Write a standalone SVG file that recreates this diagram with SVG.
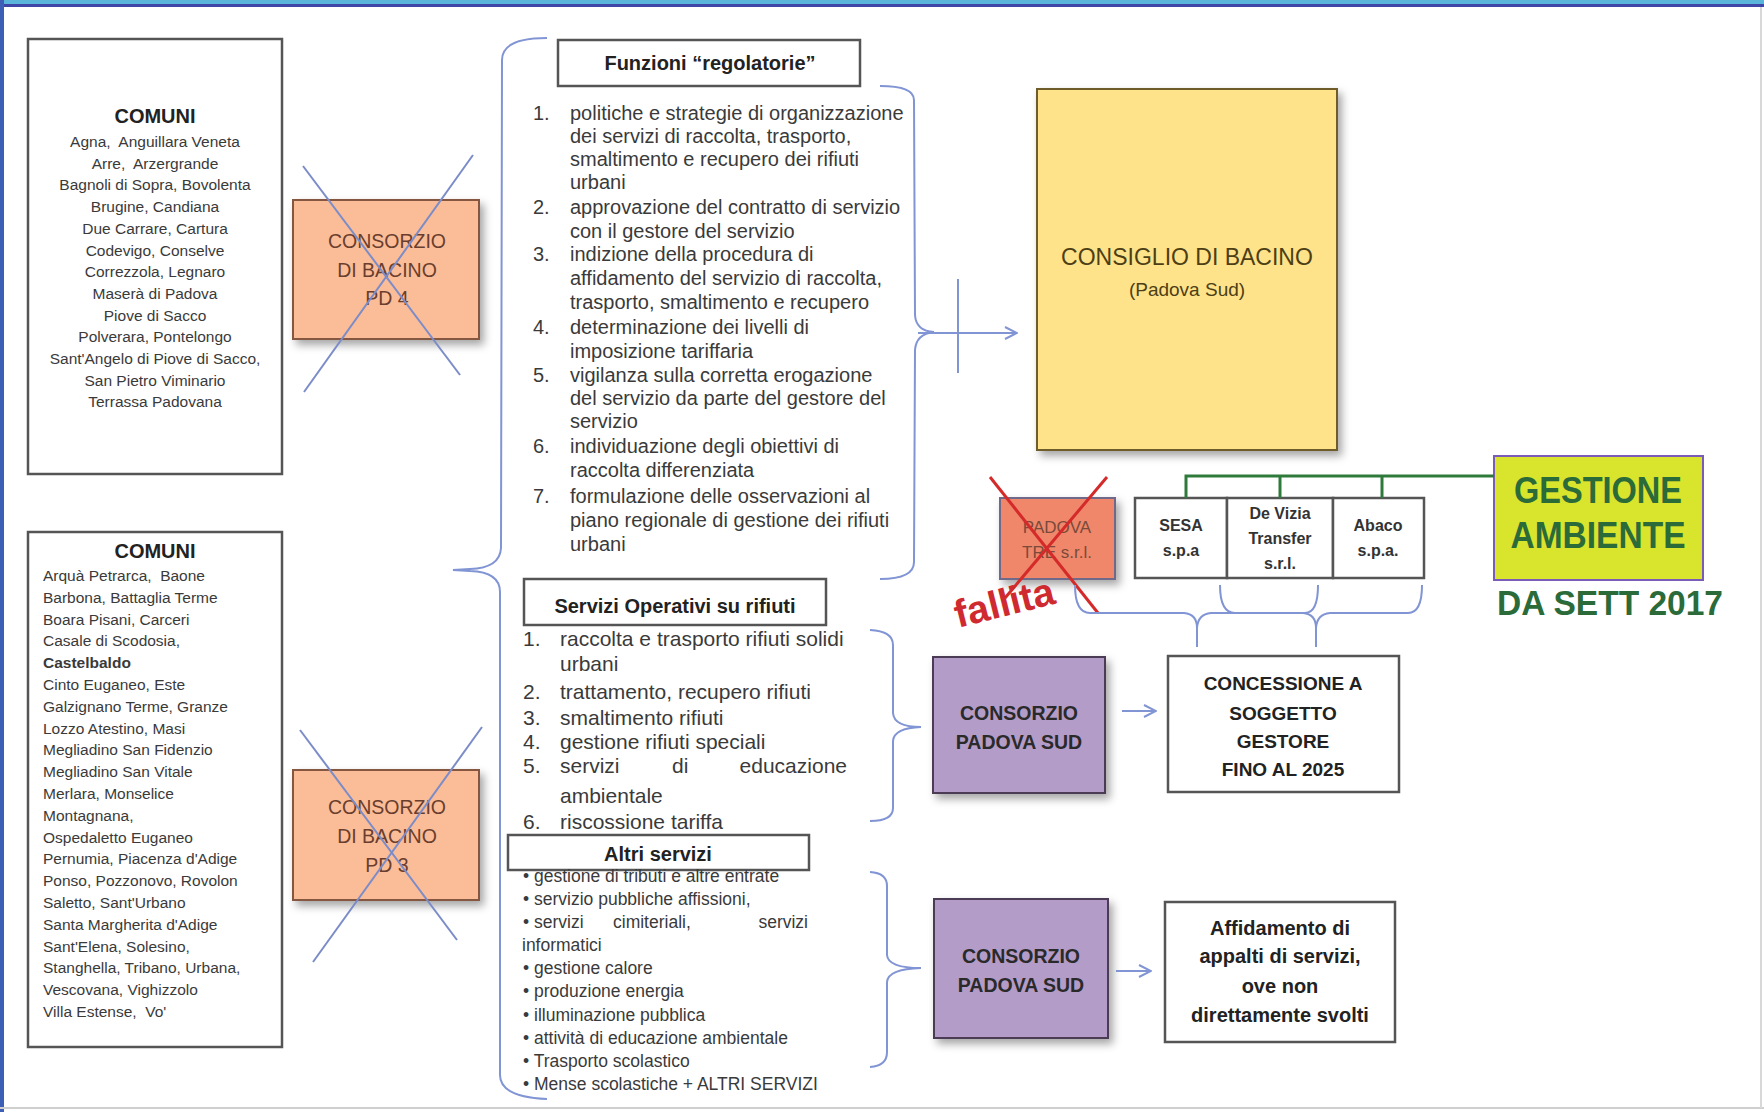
<svg xmlns="http://www.w3.org/2000/svg" width="1764" height="1112" viewBox="0 0 1764 1112">
<defs>
<style>
text{font-family:"Liberation Sans",Arial,sans-serif;fill:#333}
.b{font-weight:bold}
.c{text-anchor:middle}
.e{text-anchor:end}
.box{fill:#fff;stroke:#555;stroke-width:2.5}
.com{font-size:15.5px;fill:#3a3a3a;white-space:pre}
.ttl{font-size:20px;font-weight:bold;fill:#222}
.pd{fill:#fbbd98;stroke:#85563f;stroke-width:2}
.pdt{font-size:19.5px;fill:#6a3e2e;text-anchor:middle}
.xl{stroke:#7b8cc8;stroke-width:2;fill:none}
.fz{font-size:20px;fill:#3a3a3a}
.sv{font-size:21px;fill:#3a3a3a}
.al{font-size:17.5px;fill:#3a3a3a}
.pu{fill:#b49cc9;stroke:#4b3a55;stroke-width:2}
.put{font-size:19.5px;font-weight:bold;fill:#2a2a2a;text-anchor:middle}
.wt{font-size:19px;font-weight:bold;fill:#222;text-anchor:middle}
.co{font-size:16px;font-weight:bold;fill:#333;text-anchor:middle}
.br{fill:none;stroke:#8194d4;stroke-width:2}
.gr{fill:none;stroke:#2e7a3a;stroke-width:3}
.ga{font-weight:bold;fill:#2b6b3a}
</style>
<filter id="sh" x="-15%" y="-15%" width="140%" height="140%">
<feDropShadow dx="4" dy="5" stdDeviation="4" flood-color="#000" flood-opacity="0.35"/>
</filter>
<marker id="ah" viewBox="0 0 14 14" refX="13" refY="7" markerWidth="14" markerHeight="14" markerUnits="userSpaceOnUse" orient="auto">
<path d="M1,1 L13,7 L1,13" fill="none" stroke="#8194d4" stroke-width="2"/>
</marker>
</defs>

<rect x="0" y="0" width="1764" height="1112" fill="#fff"/>
<g id="frame">
<rect x="0" y="0" width="1764" height="4" fill="#5bb5da"/>
<rect x="0" y="4" width="1764" height="3" fill="#3f46a8"/>
<rect x="0" y="0" width="4" height="1112" fill="#3d5fb5"/>
<line x1="0" y1="1108" x2="1764" y2="1108" stroke="#cfcfcf" stroke-width="2"/>
<line x1="1761" y1="7" x2="1761" y2="1108" stroke="#d8d8d8" stroke-width="2"/>
</g>

<g id="comuni-pd4">
<rect class="box" x="28" y="39" width="254" height="435"/>
<text class="ttl c" x="155" y="123">COMUNI</text>
<text class="com c" x="155" y="147">Agna,  Anguillara Veneta</text>
<text class="com c" x="155" y="168.7">Arre,  Arzergrande</text>
<text class="com c" x="155" y="190.4">Bagnoli di Sopra, Bovolenta</text>
<text class="com c" x="155" y="212.1">Brugine, Candiana</text>
<text class="com c" x="155" y="233.8">Due Carrare, Cartura</text>
<text class="com c" x="155" y="255.5">Codevigo, Conselve</text>
<text class="com c" x="155" y="277.2">Correzzola, Legnaro</text>
<text class="com c" x="155" y="298.9">Maserà di Padova</text>
<text class="com c" x="155" y="320.6">Piove di Sacco</text>
<text class="com c" x="155" y="342.3">Polverara, Pontelongo</text>
<text class="com c" x="155" y="364">Sant'Angelo di Piove di Sacco,</text>
<text class="com c" x="155" y="385.7">San Pietro Viminario</text>
<text class="com c" x="155" y="407.4">Terrassa Padovana</text>
</g>

<g id="consorzio-pd4">
<rect class="pd" x="293" y="200" width="186" height="139" filter="url(#sh)"/>
<text class="pdt" x="387" y="248">CONSORZIO</text>
<text class="pdt" x="387" y="277">DI BACINO</text>
<text class="pdt" x="387" y="305">PD 4</text>
<line class="xl" x1="303" y1="166" x2="460" y2="375"/>
<line class="xl" x1="473" y1="155" x2="304" y2="392"/>
</g>

<g id="comuni-pd3">
<rect class="box" x="28" y="532" width="254" height="515"/>
<text class="ttl c" x="155" y="558">COMUNI</text>
<text class="com" x="43" y="581">Arquà Petrarca,  Baone</text>
<text class="com" x="43" y="602.8">Barbona, Battaglia Terme</text>
<text class="com" x="43" y="624.6">Boara Pisani, Carceri</text>
<text class="com" x="43" y="646.4">Casale di Scodosia,</text>
<text class="com b" x="43" y="668.2">Castelbaldo</text>
<text class="com" x="43" y="690">Cinto Euganeo, Este</text>
<text class="com" x="43" y="711.8">Galzignano Terme, Granze</text>
<text class="com" x="43" y="733.6">Lozzo Atestino, Masi</text>
<text class="com" x="43" y="755.4">Megliadino San Fidenzio</text>
<text class="com" x="43" y="777.2">Megliadino San Vitale</text>
<text class="com" x="43" y="799">Merlara, Monselice</text>
<text class="com" x="43" y="820.8">Montagnana,</text>
<text class="com" x="43" y="842.6">Ospedaletto Euganeo</text>
<text class="com" x="43" y="864.4">Pernumia, Piacenza d'Adige</text>
<text class="com" x="43" y="886.2">Ponso, Pozzonovo, Rovolon</text>
<text class="com" x="43" y="908">Saletto, Sant'Urbano</text>
<text class="com" x="43" y="929.8">Santa Margherita d'Adige</text>
<text class="com" x="43" y="951.6">Sant'Elena, Solesino,</text>
<text class="com" x="43" y="973.4">Stanghella, Tribano, Urbana,</text>
<text class="com" x="43" y="995.2">Vescovana, Vighizzolo</text>
<text class="com" x="43" y="1017">Villa Estense,  Vo'</text>
</g>

<g id="consorzio-pd3">
<rect class="pd" x="293" y="770" width="186" height="130" filter="url(#sh)"/>
<text class="pdt" x="387" y="814">CONSORZIO</text>
<text class="pdt" x="387" y="843">DI BACINO</text>
<text class="pdt" x="387" y="872">PD 3</text>
<line class="xl" x1="300" y1="730" x2="457" y2="940"/>
<line class="xl" x1="482" y1="727" x2="313" y2="962"/>
</g>

<g id="funzioni-regolatorie">
<rect class="box" x="558" y="40" width="302" height="46" stroke="#444"/>
<text class="ttl c" x="710" y="70">Funzioni “regolatorie”</text>
<text class="fz" x="533" y="120">1.</text>
<text class="fz" x="570" y="120">politiche e strategie di organizzazione</text>
<text class="fz" x="570" y="143">dei servizi di raccolta, trasporto,</text>
<text class="fz" x="570" y="166">smaltimento e recupero dei rifiuti</text>
<text class="fz" x="570" y="189">urbani</text>
<text class="fz" x="533" y="214">2.</text>
<text class="fz" x="570" y="214">approvazione del contratto di servizio</text>
<text class="fz" x="570" y="238">con il gestore del servizio</text>
<text class="fz" x="533" y="261">3.</text>
<text class="fz" x="570" y="261">indizione della procedura di</text>
<text class="fz" x="570" y="285">affidamento del servizio di raccolta,</text>
<text class="fz" x="570" y="309">trasporto, smaltimento e recupero</text>
<text class="fz" x="533" y="334">4.</text>
<text class="fz" x="570" y="334">determinazione dei livelli di</text>
<text class="fz" x="570" y="358">imposizione tariffaria</text>
<text class="fz" x="533" y="382">5.</text>
<text class="fz" x="570" y="382">vigilanza sulla corretta erogazione</text>
<text class="fz" x="570" y="405">del servizio da parte del gestore del</text>
<text class="fz" x="570" y="428">servizio</text>
<text class="fz" x="533" y="453">6.</text>
<text class="fz" x="570" y="453">individuazione degli obiettivi di</text>
<text class="fz" x="570" y="477">raccolta differenziata</text>
<text class="fz" x="533" y="503">7.</text>
<text class="fz" x="570" y="503">formulazione delle osservazioni al</text>
<text class="fz" x="570" y="527">piano regionale di gestione dei rifiuti</text>
<text class="fz" x="570" y="551">urbani</text>
</g>

<g id="servizi-operativi">
<rect class="box" x="524" y="579" width="302" height="46" stroke="#444"/>
<text class="ttl c" x="675" y="613">Servizi Operativi su rifiuti</text>
<text class="sv" x="523" y="646">1.</text>
<text class="sv" x="560" y="646">raccolta e trasporto rifiuti solidi</text>
<text class="sv" x="560" y="671">urbani</text>
<text class="sv" x="523" y="699">2.</text>
<text class="sv" x="560" y="699">trattamento, recupero rifiuti</text>
<text class="sv" x="523" y="725">3.</text>
<text class="sv" x="560" y="725">smaltimento rifiuti</text>
<text class="sv" x="523" y="749">4.</text>
<text class="sv" x="560" y="749">gestione rifiuti speciali</text>
<text class="sv" x="523" y="773">5.</text>
<text class="sv" x="560" y="773">servizi</text>
<text class="sv" x="672" y="773">di</text>
<text class="sv e" x="847" y="773">educazione</text>
<text class="sv" x="560" y="803">ambientale</text>
<text class="sv" x="523" y="829">6.</text>
<text class="sv" x="560" y="829">riscossione tariffa</text>
</g>

<g id="altri-servizi">
<rect class="box" x="508" y="835" width="301" height="35" stroke="#444"/>
<text class="ttl c" x="658" y="861">Altri servizi</text>
<text class="al" x="523" y="882">• gestione di tributi e altre entrate</text>
<text class="al" x="523" y="905">• servizio pubbliche affissioni,</text>
<text class="al" x="523" y="928">• servizi</text>
<text class="al" x="613" y="928">cimiteriali,</text>
<text class="al e" x="808" y="928">servizi</text>
<text class="al" x="522" y="951">informatici</text>
<text class="al" x="523" y="974">• gestione calore</text>
<text class="al" x="523" y="997">• produzione energia</text>
<text class="al" x="523" y="1021">• illuminazione pubblica</text>
<text class="al" x="523" y="1044">• attività di educazione ambientale</text>
<text class="al" x="523" y="1067">• Trasporto scolastico</text>
<text class="al" x="523" y="1090">• Mense scolastiche + ALTRI SERVIZI</text>
</g>

<g id="consiglio-di-bacino">
<rect x="1037" y="89" width="300" height="361" fill="#ffe38b" stroke="#6e5c2a" stroke-width="2" filter="url(#sh)"/>
<text class="c" x="1187" y="265" style="font-size:23px;fill:#4d3f15">CONSIGLIO DI BACINO</text>
<text class="c" x="1187" y="296" style="font-size:19px;fill:#4d3f15">(Padova Sud)</text>
</g>

<g id="padova-tre">
<rect x="1000" y="498" width="115" height="81" fill="#f0876b" stroke="#6f6a8a" stroke-width="2" filter="url(#sh)"/>
<text class="c" x="1057" y="533" style="font-size:17px;fill:#7a4a3a">PADOVA</text>
<text class="c" x="1057" y="558" style="font-size:17px;fill:#7a4a3a">TRE s.r.l.</text>
<line x1="990" y1="477" x2="1098" y2="613" stroke="#d42a2a" stroke-width="3"/>
<line x1="1107" y1="477" x2="1005" y2="598" stroke="#d42a2a" stroke-width="3"/>
<text class="b" x="958" y="628" transform="rotate(-14 958 628)" style="font-size:39px;fill:#cf2a30">fallita</text>
</g>

<g id="sesa">
<rect class="box" x="1135" y="498" width="92" height="80" stroke-width="2"/>
<text class="co" x="1181" y="531">SESA</text>
<text class="co" x="1181" y="556">s.p.a</text>
</g>
<g id="de-vizia">
<rect class="box" x="1227" y="498" width="106" height="80" stroke-width="2"/>
<text class="co" x="1280" y="519">De Vizia</text>
<text class="co" x="1280" y="544">Transfer</text>
<text class="co" x="1280" y="569">s.r.l.</text>
</g>
<g id="abaco">
<rect class="box" x="1333" y="498" width="91" height="80" stroke-width="2"/>
<text class="co" x="1378" y="531">Abaco</text>
<text class="co" x="1378" y="556">s.p.a.</text>
</g>

<g id="gestione-ambiente">
<rect x="1494" y="456" width="209" height="124" fill="#d9e42c" stroke="#7a5cb8" stroke-width="2"/>
<text class="ga c" x="1598" y="503" style="font-size:37px" textLength="168" lengthAdjust="spacingAndGlyphs">GESTIONE</text>
<text class="ga c" x="1598" y="548" style="font-size:37px" textLength="175" lengthAdjust="spacingAndGlyphs">AMBIENTE</text>
<text class="ga" x="1497" y="615" style="font-size:35px" textLength="226" lengthAdjust="spacingAndGlyphs">DA SETT 2017</text>
</g>

<g id="consorzio-padova-sud-1">
<rect class="pu" x="933" y="657" width="172" height="136" filter="url(#sh)"/>
<text class="put" x="1019" y="720">CONSORZIO</text>
<text class="put" x="1019" y="749">PADOVA SUD</text>
</g>
<g id="concessione">
<rect class="box" x="1168" y="656" width="231" height="136" stroke-width="2"/>
<text class="wt" x="1283" y="690">CONCESSIONE A</text>
<text class="wt" x="1283" y="720">SOGGETTO</text>
<text class="wt" x="1283" y="748">GESTORE</text>
<text class="wt" x="1283" y="776">FINO AL 2025</text>
</g>
<g id="consorzio-padova-sud-2">
<rect class="pu" x="934" y="899" width="174" height="139" filter="url(#sh)"/>
<text class="put" x="1021" y="963">CONSORZIO</text>
<text class="put" x="1021" y="992">PADOVA SUD</text>
</g>
<g id="affidamento">
<rect class="box" x="1165" y="902" width="230" height="140" stroke-width="2"/>
<text class="wt" x="1280" y="935" style="font-size:20px">Affidamento di</text>
<text class="wt" x="1280" y="963" style="font-size:20px">appalti di servizi,</text>
<text class="wt" x="1280" y="993" style="font-size:20px">ove non</text>
<text class="wt" x="1280" y="1022" style="font-size:20px">direttamente svolti</text>
</g>

<g id="connectors">
<path class="br" d="M547,38 Q502,38 502,60 L501,548 Q500,568 470,569 L453,570 L470,571 Q500,572 500,592 L500,1075 Q500,1097 547,1099"/>
<path class="br" d="M880,86 Q914,86 914,100 L915,315 Q916,331 934,332 Q916,334 915,350 L914,562 Q914,579 880,579"/>
<path class="br" d="M918,333 H958"/>
<path class="br" d="M958,279 V373"/>
<path class="br" d="M958,333 H1017" marker-end="url(#ah)"/>
<path class="br" d="M870,630 Q893,631 893,645 L893,713 Q894,727 921,727 Q894,728 893,741 L893,808 Q893,821 870,821"/>
<path class="br" d="M1122,711 H1156" marker-end="url(#ah)"/>
<path class="br" d="M870,872 Q887,873 887,886 L887,955 Q888,968 921,968 Q888,969 887,982 L887,1052 Q887,1066 870,1067"/>
<path class="br" d="M1116,971 H1151" marker-end="url(#ah)"/>
<path class="br" d="M1075,585 Q1075,613 1090,613 L1184,613 Q1197,614 1197,628 L1197,647 M1197,628 Q1198,614 1211,613 L1305,613 Q1318,613 1318,585"/>
<path class="br" d="M1220,585 Q1220,613 1235,613 L1303,613 Q1316,614 1316,628 L1316,647 M1316,628 Q1317,614 1330,613 L1408,613 Q1422,613 1422,585"/>
<path class="gr" d="M1186,498 V476 H1494"/>
<path class="gr" d="M1280,476 V498"/>
<path class="gr" d="M1382,476 V498"/>
</g>
</svg>
